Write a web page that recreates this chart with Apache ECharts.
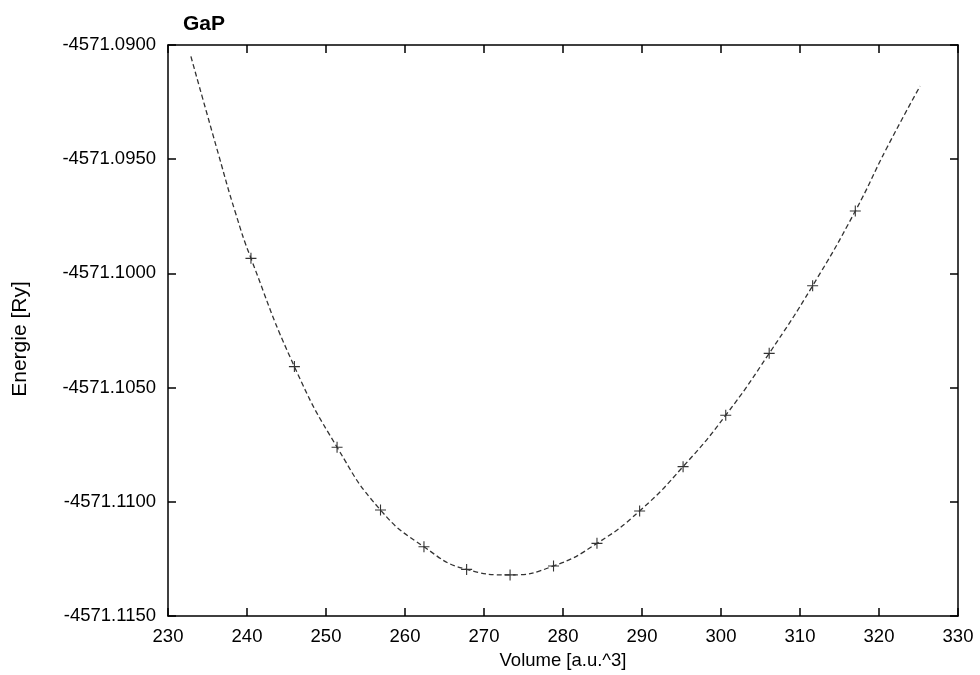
<!DOCTYPE html>
<html>
<head>
<meta charset="utf-8">
<script src="https://cdn.jsdelivr.net/npm/echarts@6/dist/echarts.min.js"></script>
<style>html,body{margin:0;padding:0;background:#fff;}#c{width:980px;height:675px;}</style>
</head>
<body>
<div id="c"></div>
<script>
// Measured data points: volume [a.u.^3] and energy [Ry]
const volumes = [240.5, 246.0, 251.4, 256.9, 262.4, 267.8, 273.3, 278.8, 284.3, 289.7, 295.2, 300.6, 306.1, 311.6, 317.0];
const energies = [-4571.09934, -4571.10408, -4571.10761, -4571.11036, -4571.11197, -4571.11296, -4571.11320, -4571.11281, -4571.11182, -4571.11040, -4571.10846, -4571.10621, -4571.10350, -4571.10054, -4571.09727];
// Fit curve
const fitVolumes = [232.9, 236.4, 238.5, 240.5, 246.0, 251.4, 256.9, 262.4, 267.8, 273.3, 278.8, 284.3, 289.7, 295.2, 300.6, 306.1, 311.6, 317.0, 321.0, 325.2];
const fitEnergies = [-4571.0905, -4571.0948, -4571.0973, -4571.09934, -4571.10408, -4571.10761, -4571.11036, -4571.11197, -4571.11296, -4571.11320, -4571.11281, -4571.11182, -4571.11040, -4571.10846, -4571.10621, -4571.10350, -4571.10054, -4571.09727, -4571.0945, -4571.0918];
const xTicks = {min: 230, max: 330, interval: 10};
const yTicks = {min: -4571.115, max: -4571.090, interval: 0.005};

const FONT = '"Liberation Sans", Arial, sans-serif';
const chart = echarts.init(document.getElementById('c'), null, {renderer: 'canvas'});
const axisLine = {show: true, lineStyle: {color: '#000', width: 1.5}};
const tickIn = {show: true, inside: true, length: 8, lineStyle: {color: '#000', width: 1.5}};
chart.setOption({
  animation: false,
  backgroundColor: '#fff',
  title: {text: 'GaP', left: 178, top: 9, textStyle: {fontFamily: FONT, fontSize: 21, fontWeight: 'bold', color: '#000'}},
  grid: {left: 168, right: 22, top: 45, bottom: 59},
  graphic: [{
    type: 'text', x: 20, y: 339, rotation: Math.PI / 2,
    style: {text: 'Energie [Ry]', font: '21px ' + FONT, fill: '#000', textAlign: 'center', textVerticalAlign: 'middle'}
  }],
  xAxis: [
    {type: 'value', min: xTicks.min, max: xTicks.max, interval: xTicks.interval,
     name: 'Volume [a.u.^3]', nameLocation: 'middle', nameGap: 35,
     nameTextStyle: {fontFamily: FONT, fontSize: 18.5, color: '#000'},
     axisLine: axisLine, axisTick: tickIn, splitLine: {show: false},
     axisLabel: {fontFamily: FONT, fontSize: 18.5, color: '#000', margin: 11}},
    {type: 'value', position: 'top', min: xTicks.min, max: xTicks.max, interval: xTicks.interval,
     axisLine: axisLine, axisTick: tickIn, splitLine: {show: false}, axisLabel: {show: false}}
  ],
  yAxis: [
    {type: 'value', min: yTicks.min, max: yTicks.max, interval: yTicks.interval,
     axisLine: axisLine, axisTick: tickIn, splitLine: {show: false},
     axisLabel: {fontFamily: FONT, fontSize: 18.5, color: '#000', margin: 12, formatter: v => v.toFixed(4)}},
    {type: 'value', position: 'right', min: yTicks.min, max: yTicks.max, interval: yTicks.interval,
     axisLine: axisLine, axisTick: tickIn, splitLine: {show: false}, axisLabel: {show: false}}
  ],
  series: [
    {type: 'line', name: 'fit', data: fitVolumes.map((v, i) => [v, fitEnergies[i]]),
     smooth: 0.5, showSymbol: false, silent: true,
     lineStyle: {color: '#333', width: 1.3, type: [5, 3]}},
    {type: 'scatter', name: 'data', data: volumes.map((v, i) => [v, energies[i]]),
     symbol: 'path://M0,4.5H10V5.5H0Z M4.5,0H5.5V10H4.5Z', symbolSize: 11,
     itemStyle: {color: '#000'}}
  ]
});
</script>
</body>
</html>
